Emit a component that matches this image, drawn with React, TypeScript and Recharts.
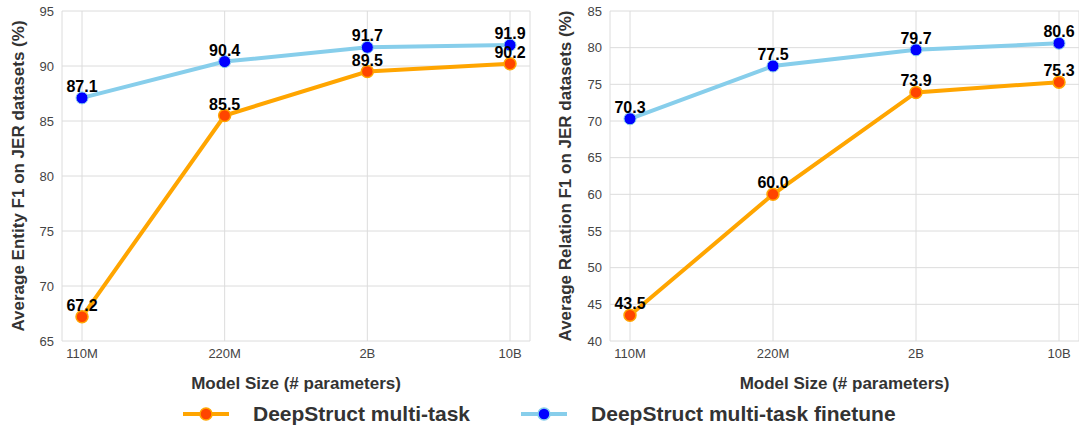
import React from 'react';
import { LineChart, Line, XAxis, YAxis, CartesianGrid, LabelList } from 'recharts';

const categories = ['110M', '220M', '2B', '10B'];
const entityMultiTask = [67.2, 85.5, 89.5, 90.2];
const entityFinetune = [87.1, 90.4, 91.7, 91.9];
const relationMultiTask = [43.5, 60.0, 73.9, 75.3];
const relationFinetune = [70.3, 77.5, 79.7, 80.6];
const entityTicks = [65, 70, 75, 80, 85, 90, 95];
const relationTicks = [40, 45, 50, 55, 60, 65, 70, 75, 80, 85];

const FONT = '"Liberation Sans", Arial, sans-serif';
const ORANGE = '#FFA500';
const ORANGE_DOT = '#FF4500';
const SKY = '#87CEEB';
const BLUE = '#0000FF';

const buildRows = (multi: number[], fine: number[]) =>
  categories.map((size, i) => ({ size, multi: multi[i], fine: fine[i] }));

const ValueLabel = (props: any) => {
  const { x, y, value } = props;
  return (
    <text x={x} y={y - 6} textAnchor="middle" fontFamily={FONT} fontSize={16} fontWeight="bold" fill="#000">
      {Number(value).toFixed(1)}
    </text>
  );
};

interface PanelProps {
  width: number;
  yWidth: number;
  marginRight: number;
  yTitle: string;
  yTitleX: number;
  ticks: number[];
  multi: number[];
  fine: number[];
}

function Panel({ width, yWidth, marginRight, yTitle, yTitleX, ticks, multi, fine }: PanelProps) {
  const data = buildRows(multi, fine);
  return (
    <LineChart width={width} height={395} data={data} margin={{ top: 11, right: marginRight, bottom: 0, left: 0 }}>
      <CartesianGrid stroke="#dcdcdc" strokeWidth={1} vertical={true} />
      <XAxis
        dataKey="size"
        padding={{ left: 20, right: 20 }}
        tickLine={false}
        axisLine={false}
        interval={0}
        height={54}
        tick={{ fill: '#444', fontSize: 13, fontFamily: FONT }}
        label={(p: any) => {
          const vb = p.viewBox;
          return (
            <text x={vb.x + vb.width / 2} y={vb.y + 48} textAnchor="middle" fontFamily={FONT} fontSize={17} fontWeight="bold" fill="#333">
              Model Size (# parameters)
            </text>
          );
        }}
      />
      <YAxis
        domain={[ticks[0], ticks[ticks.length - 1]]}
        ticks={ticks}
        width={yWidth}
        tickLine={false}
        axisLine={false}
        tick={{ fill: '#444', fontSize: 13, fontFamily: FONT }}
        label={(p: any) => {
          const vb = p.viewBox;
          const cy = vb.y + vb.height / 2;
          return (
            <text
              x={yTitleX}
              y={cy}
              transform={`rotate(-90, ${yTitleX}, ${cy})`}
              textAnchor="middle"
              dominantBaseline="central"
              fontFamily={FONT}
              fontSize={17}
              fontWeight="bold"
              fill="#333"
            >
              {yTitle}
            </text>
          );
        }}
      />
      <Line
        dataKey="multi"
        stroke={ORANGE}
        strokeWidth={4}
        dot={{ r: 6, fill: ORANGE_DOT, stroke: ORANGE, strokeWidth: 1.5 }}
        activeDot={false}
        isAnimationActive={false}
      >
        <LabelList dataKey="multi" content={ValueLabel} />
      </Line>
      <Line
        dataKey="fine"
        stroke={SKY}
        strokeWidth={4}
        dot={{ r: 6, fill: BLUE, stroke: SKY, strokeWidth: 1 }}
        activeDot={false}
        isAnimationActive={false}
      >
        <LabelList dataKey="fine" content={ValueLabel} />
      </Line>
    </LineChart>
  );
}

const LegendItem = ({ line, dot, text }: { line: string; dot: string; text: string }) => (
  <div style={{ display: 'flex', alignItems: 'center' }}>
    <svg width={46} height={16} style={{ marginRight: 24 }}>
      <line x1={0} y1={8} x2={46} y2={8} stroke={line} strokeWidth={4} />
      <circle cx={23} cy={8} r={6} fill={dot} stroke={line} strokeWidth={1.5} />
    </svg>
    <span style={{ fontFamily: FONT, fontSize: 21, fontWeight: 'bold', color: '#333' }}>{text}</span>
  </div>
);

export default function App() {
  return (
    <div style={{ position: 'absolute', left: 0, top: 0, width: 1079, height: 428, background: '#fff' }}>
      <div style={{ position: 'absolute', left: 0, top: 0 }}>
        <Panel
          width={540}
          yWidth={62}
          marginRight={10}
          yTitle="Average Entity F1 on JER datasets (%)"
          yTitleX={18}
          ticks={entityTicks}
          multi={entityMultiTask}
          fine={entityFinetune}
        />
      </div>
      <div style={{ position: 'absolute', left: 540, top: 0 }}>
        <Panel
          width={539}
          yWidth={70}
          marginRight={0}
          yTitle="Average Relation F1 on JER datasets (%)"
          yTitleX={25}
          ticks={relationTicks}
          multi={relationMultiTask}
          fine={relationFinetune}
        />
      </div>
      <div style={{ position: 'absolute', left: 183, top: 400, height: 28, display: 'flex', alignItems: 'center', gap: 51 }}>
        <LegendItem line={ORANGE} dot={ORANGE_DOT} text="DeepStruct multi-task" />
        <LegendItem line={SKY} dot={BLUE} text="DeepStruct multi-task finetune" />
      </div>
    </div>
  );
}
